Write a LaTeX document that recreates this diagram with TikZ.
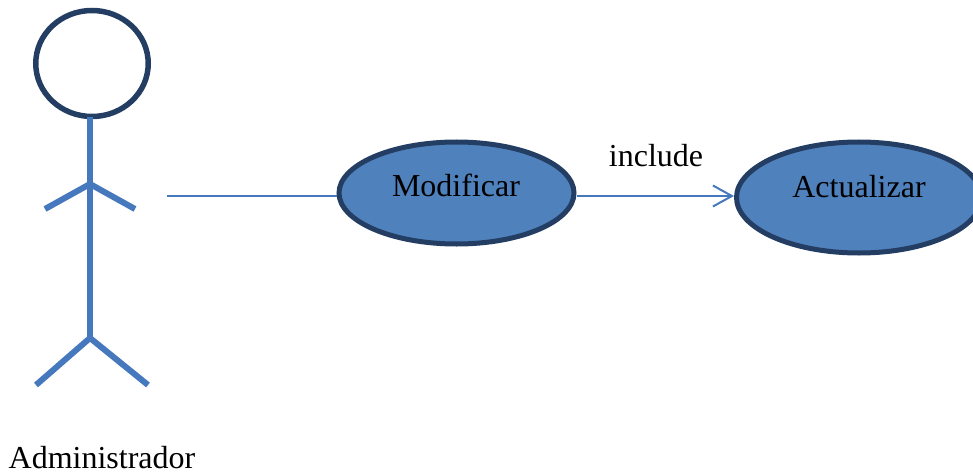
\documentclass[tikz,border=0pt]{standalone}
\usepackage{fontspec}
\setmainfont{Liberation Serif}
\usetikzlibrary{shapes.geometric,arrows.meta}
\definecolor{rimblue}{RGB}{36,62,99}
\definecolor{fillblue}{RGB}{79,129,189}
\definecolor{limbblue}{RGB}{70,120,190}
\tikzset{
    usecase/.style={ellipse,draw=rimblue,fill=fillblue,line width=5pt,inner sep=0pt},
    limb/.style={draw=limbblue,line width=6pt},
    link/.style={draw=limbblue,line width=2pt},
    label/.style={font=\fontsize{32}{34}\selectfont,inner sep=0pt}
}
\begin{document}
\begin{tikzpicture}[x=1pt,y=-1pt]
    \useasboundingbox (0,0) rectangle (973,473);
    % actor
    \coordinate (neck) at (90,117);
    \coordinate (hip) at (90,338);
    \coordinate (waist) at (90,184);
    \coordinate (handl) at (45,209);
    \coordinate (handr) at (135,209);
    \coordinate (footl) at (36,385);
    \coordinate (footr) at (148,385);
    \node[ellipse,draw=rimblue,line width=5.5pt,minimum width=112.5pt,minimum height=106pt,inner sep=0pt] (head) at (92,63.5) {};
    \draw[limb] (neck)--(hip);
    \draw[limb] (handl)--(waist)--(handr);
    \draw[limb] (footl)--(hip)--(footr);
    \node[label,anchor=base] (admin) at (102,468) {Administrador};
    % use cases
    \node[usecase,minimum width=235pt,minimum height=102pt] (modificar) at (456.5,193) {};
    \node[usecase,minimum width=245pt,minimum height=111pt] (actualizar) at (859,197.5) {};
    \node[label,anchor=base] (modtext) at (456,196) {Modificar};
    \node[label,anchor=base] (acttext) at (859,197) {Actualizar};
    \coordinate (start) at (167,196);
    \draw[link] (start)--(modificar.west |- start);
    \draw[link,-{Straight Barb[length=19pt,width=21pt,line width=2pt]}] (modificar.east |- start)--(actualizar.west |- start);
    \node[label,anchor=base] (incl) at (656,166) {include};
\end{tikzpicture}
\end{document}
